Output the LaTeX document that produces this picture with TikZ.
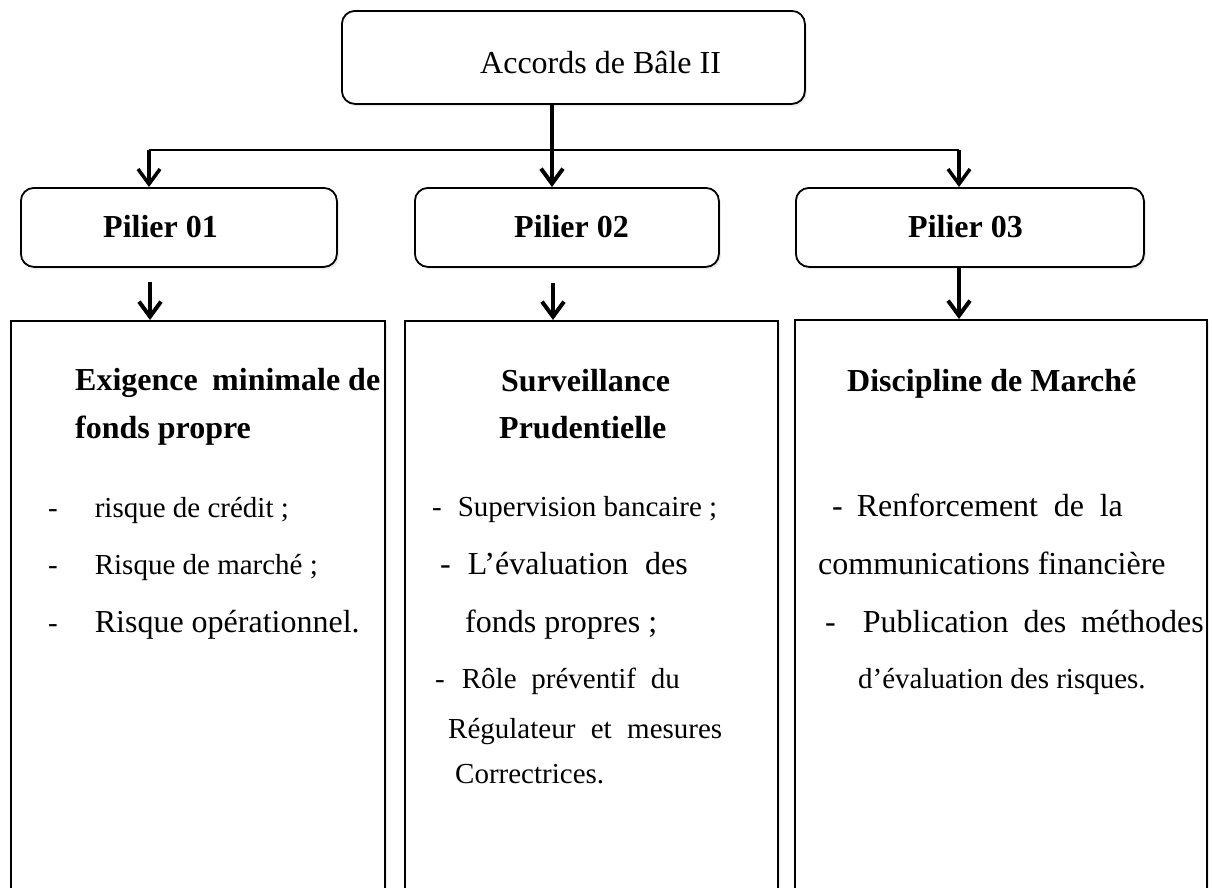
\documentclass[tikz,border=0pt]{standalone}
\usepackage{fontspec}
\setmainfont{Liberation Serif}
\usetikzlibrary{arrows.meta,shadows}
\newcommand{\bigbody}{\fontsize{32}{32}\selectfont}
\begin{document}
\begin{tikzpicture}[x=1pt,y=-1pt,
  softshadow/.style={drop shadow={opacity=0.16,shadow xshift=2pt,shadow yshift=-2.5pt}},
  pillar/.style={draw,line width=1.8pt,rounded corners=13pt,fill=white,softshadow,
                 inner sep=0pt,anchor=north west},
  column/.style={draw,line width=1.8pt,fill=white,softshadow,inner sep=0pt,anchor=north west},
  title/.style={anchor=base west,inner sep=0pt,font=\fontsize{32}{32}\selectfont},
  head/.style={anchor=base west,inner sep=0pt,font=\fontsize{32}{32}\selectfont\bfseries},
  body/.style={anchor=base west,inner sep=0pt,font=\fontsize{29}{29}\selectfont},
  link/.style={line width=2pt},
  arr/.style={line width=4pt,-{Straight Barb[length=15pt,width=22pt]}},
  branch/.style={line width=3.5pt,-{Straight Barb[length=15pt,width=22pt]}}
]
\useasboundingbox (0,0) rectangle (1212,887);
\clip (0,0) rectangle (1212,887);

% top box and the three pillars
\node[pillar,minimum width=463pt,minimum height=93pt] (top) at (341,10) {};
\node[pillar,minimum width=316pt,minimum height=79pt] (p1) at (20,187) {};
\node[pillar,minimum width=304pt,minimum height=79pt] (p2) at (414,187) {};
\node[pillar,minimum width=348pt,minimum height=79pt] (p3) at (795,187) {};

% the three columns, running past the lower edge
\node[column,minimum width=374pt,minimum height=580pt] (c1) at (10,320) {};
\node[column,minimum width=373pt,minimum height=580pt] (c2) at (404,320) {};
\node[column,minimum width=412pt,minimum height=580pt] (c3) at (794,319) {};

% junction points of the connectors
\coordinate (j1) at (149,150);
\coordinate (j2) at (552,150);
\coordinate (j3) at (959,150);
\coordinate (s1) at (150,282);
\coordinate (s2) at (553,283);

% connectors
\draw[link] (j1) -- (j3);
\draw[arr] (top.south -| j2) -- (p2.north -| j2);
\draw[branch] (j1) -- (p1.north -| j1);
\draw[branch] (j3) -- (p3.north -| j3);
\draw[arr] (s1) -- (c1.north -| s1);
\draw[arr] (s2) -- (c2.north -| s2);
\draw[arr] (p3.south -| j3) -- (c3.north -| j3);

% labels
\node[title] (t0) at (480,73) {Accords de Bâle II};
\node[head] (t1) at (103,237) {Pilier 01};
\node[head] (t2) at (514,237) {Pilier 02};
\node[head] (t3) at (908,237) {Pilier 03};

% column 1
\node[head] (a1) at (75,390) {\makebox[305pt][l]{Exigence\hfill minimale de}};
\node[head] (a2) at (75,438) {fonds propre};
\node[body] (a3) at (48,517) {-\hspace{37pt}risque de crédit ;};
\node[body] (a4) at (48,574) {-\hspace{37pt}Risque de marché ;};
\node[body] (a5) at (48,632) {-\hspace{37pt}{\bigbody Risque opérationnel.}};

% column 2
\node[head] (b1) at (501,391) {Surveillance};
\node[head] (b2) at (499,438) {Prudentielle};
\node[body] (b3) at (432,516) {-\hspace{16pt}Supervision bancaire ;};
\node[body] (b4) at (440,574) {\bigbody -\hspace{17pt}\makebox[220pt][s]{L’évaluation des}};
\node[body] (b5) at (465,632) {\bigbody fonds propres ;};
\node[body] (b6) at (435,688) {-\hspace{17pt}\makebox[218pt][s]{Rôle préventif du}};
\node[body] (b7) at (448,738) {\makebox[274pt][s]{Régulateur et mesures}};
\node[body] (b8) at (455,783) {Correctrices.};

% column 3
\node[head] (d1) at (847,391) {Discipline de Marché};
\node[body] (d2) at (832,516) {\bigbody -\hspace{14pt}\makebox[266pt][s]{Renforcement de la}};
\node[body] (d3) at (818,574) {\bigbody communications financière};
\node[body] (d4) at (825,632) {\bigbody -\hspace{27pt}\makebox[341pt][s]{Publication des méthodes}};
\node[body] (d5) at (858,688) {d’évaluation des risques.};
\end{tikzpicture}
\end{document}
